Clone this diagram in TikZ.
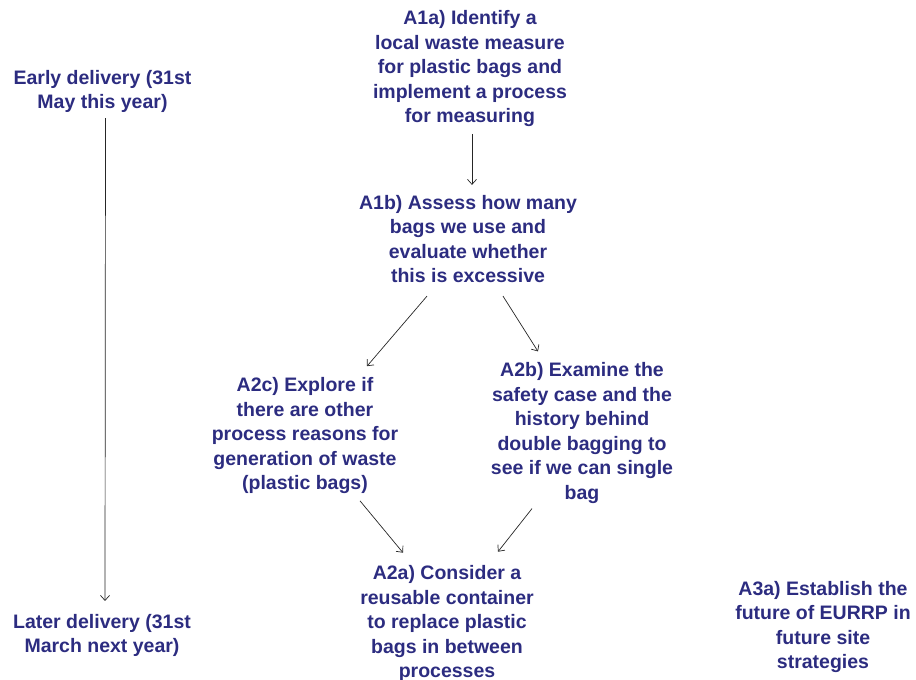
\documentclass[tikz,border=0pt]{standalone}
\usepackage{fontspec}
\setmainfont{Liberation Sans}
\usetikzlibrary{arrows.meta}
\definecolor{inkblue}{RGB}{44,44,128}
\tikzset{
  lbl/.style={align=center, inner sep=0pt, text=inkblue,
    font=\bfseries\fontsize{19.5}{24.5}\selectfont},
  arr/.style={draw=black!85, line width=0.7pt,
    -{Straight Barb[length=5pt,width=9pt]}}
}
\begin{document}
\begin{tikzpicture}[x=1pt,y=-1pt]
\useasboundingbox (0,0) rectangle (916,680);
\node[lbl] (early) at (102.5,91.5) {Early delivery (31st\\May this year)};
\node[lbl] (later) at (102,635.5) {Later delivery (31st\\March next year)};
\node[lbl] (a1a) at (470,68.5) {A1a) Identify a\\local waste measure\\for plastic bags and\\implement a process\\for measuring};
\node[lbl] (a1b) at (468,239) {A1b) Assess how many\\bags we use and\\evaluate whether\\this is excessive};
\node[lbl] (a2c) at (305,435.5) {A2c) Explore if\\there are other\\process reasons for\\generation of waste\\(plastic bags)};
\node[lbl] (a2b) at (582,433) {A2b) Examine the\\safety case and the\\history behind\\double bagging to\\see if we can single\\bag};
\node[lbl] (a2a) at (447,623.5) {A2a) Consider a\\reusable container\\to replace plastic\\bags in between\\processes};
\node[lbl] (a3a) at (823,627) {A3a) Establish the\\future of EURRP in\\future site\\strategies};

\draw[arr] ([xshift=3pt,yshift=-5pt]early.south) -- ([xshift=3pt,yshift=13pt]later.north);
\draw[arr] ([xshift=2pt,yshift=-7pt]a1a.south) -- ([xshift=4pt,yshift=10pt]a1b.north);
\draw[arr] ([xshift=-41pt,yshift=-13pt]a1b.south) -- ([xshift=62pt,yshift=11pt]a2c.north);
\draw[arr] ([xshift=35pt,yshift=-13pt]a1b.south) -- ([xshift=-44pt,yshift=11pt]a2b.north);
\draw[arr] ([xshift=55pt,yshift=-7pt]a2c.south) -- ([xshift=-44pt,yshift=12.5pt]a2a.north);
\draw[arr] ([xshift=-50pt,yshift=-5pt]a2b.south) -- ([xshift=51pt,yshift=13.5pt]a2a.north);
\end{tikzpicture}
\end{document}
